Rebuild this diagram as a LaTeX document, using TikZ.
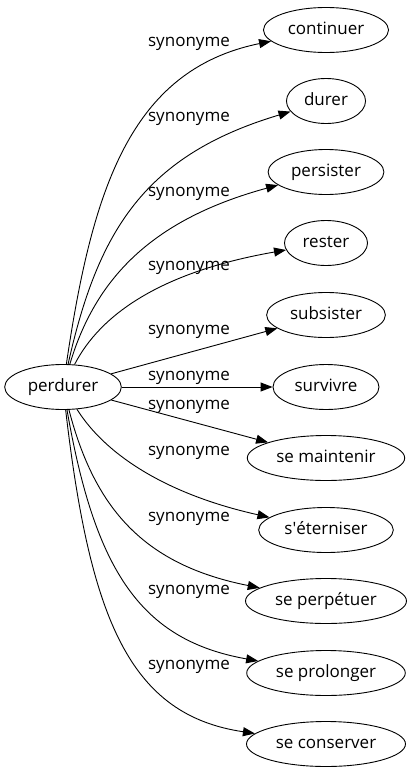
\documentclass[tikz,border=0pt]{standalone}
\usepackage{fontspec}
\setmainfont{Open Sans}
\usetikzlibrary{shapes.geometric,arrows.meta}

\tikzset{
  word/.style={draw, ellipse, line width=0.9pt, inner xsep=6pt, inner ysep=2pt,
    minimum height=45pt, text height=13pt, text depth=4pt,
    font=\fontsize{17}{20}\selectfont},
  rel/.style={font=\fontsize{17}{20}\selectfont, inner sep=0pt},
  syn/.style={-{Triangle[length=12pt,width=9pt]}, line width=0.9pt},
}

\begin{document}
\begin{tikzpicture}[x=1pt, y=-1pt]

      \useasboundingbox (0,0) rectangle (409,779);

      \node[word] (perdurer) at (63,387) {perdurer};

      \node[word] (continuer) at (326,30) {continuer};
      \node[word] (durer) at (326,101) {durer};
      \node[word] (persister) at (326,172) {persister};
      \node[word] (rester) at (326,243) {rester};
      \node[word] (subsister) at (326,315) {subsister};
      \node[word] (survivre) at (326,387) {survivre};
      \node[word] (maintenir) at (326,458) {se maintenir};
      \node[word] (eterniser) at (326,530) {s\textquotesingle éterniser};
      \node[word] (perpetuer) at (326,601) {se perpétuer};
      \node[word] (prolonger) at (326,673) {se prolonger};
      \node[word] (conserver) at (326,744) {se conserver};

      \foreach \y/\n in {44/1, 119/2, 194/3, 268/4, 332/5, 378/6, 407/7, 453/8, 519/9, 592/10, 667/11}
      \node[rel] (syn\n) at (189,\y) {synonyme};

      \draw[syn] (perdurer) .. controls (92,190) and (130,70) .. (continuer);
      \draw[syn] (perdurer) .. controls (98,230) and (145,155) .. (durer);
      \draw[syn] (perdurer) .. controls (95,280) and (150,220) .. (persister);
      \draw[syn] (perdurer) .. controls (100,315) and (160,272) .. (rester);
      \draw[syn] (perdurer) -- (subsister);
      \draw[syn] (perdurer) -- (survivre);
      \draw[syn] (perdurer) -- (maintenir);
      \draw[syn] (perdurer) .. controls (105,454) and (165,494) .. (eterniser);
      \draw[syn] (perdurer) .. controls (95,510) and (145,565) .. (perpetuer);
      \draw[syn] (perdurer) .. controls (95,570) and (140,640) .. (prolonger);
      \draw[syn] (perdurer) .. controls (90,620) and (130,715) .. (conserver);
    \end{tikzpicture}
\end{document}
